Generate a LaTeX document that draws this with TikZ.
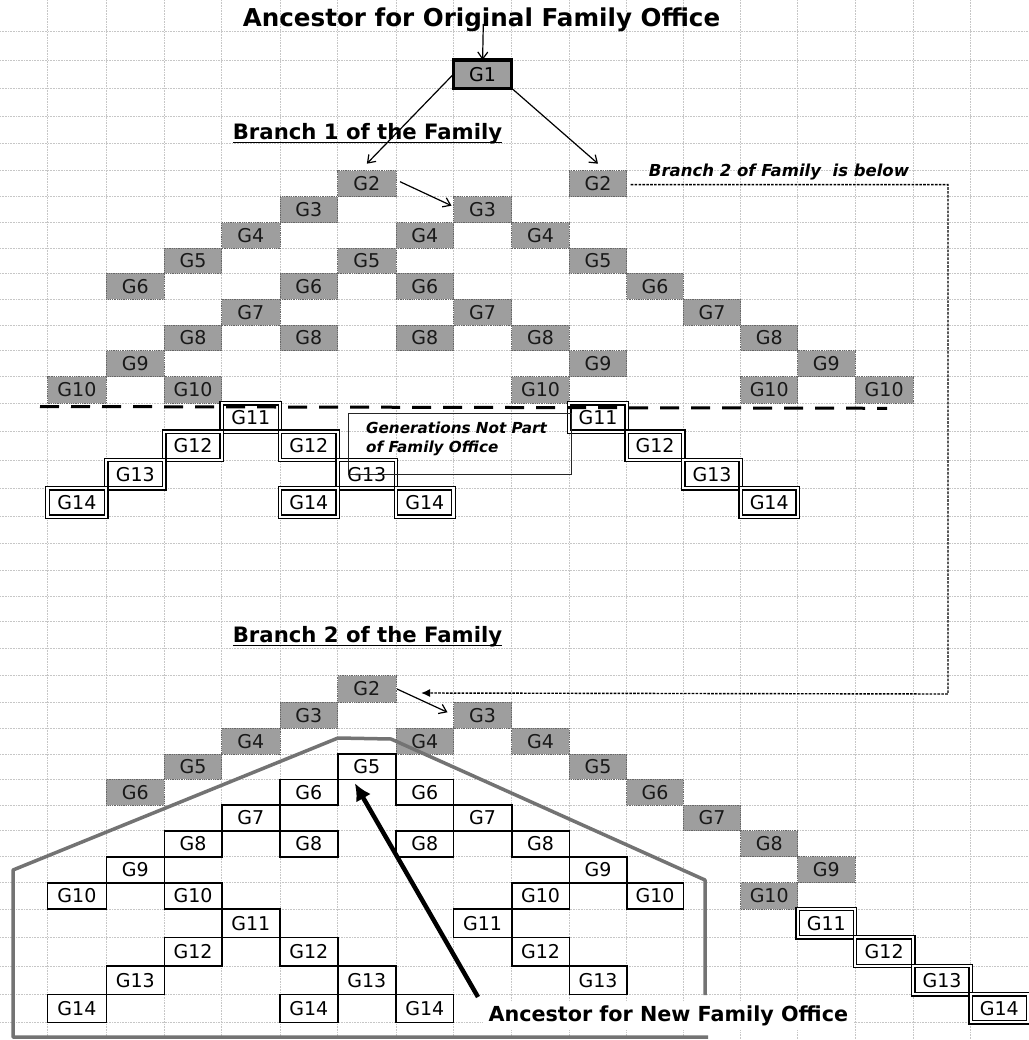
\documentclass[tikz,border=0pt]{standalone}
\usepackage{fontspec}
\setmainfont{DejaVu Sans}
\usetikzlibrary{arrows.meta}
\newcommand\ulx[1]{\setbox0\hbox{#1}\rlap{\rule[-3.3pt]{\wd0}{1.4pt}}\box0}
\def\colx{{47.5,106.3,164.3,221.7,280,337.7,396,453.5,511.7,569.3,626.7,683.3,740.7,797.7,855,913.3,970.7,1028}}
\def\rowy{{3.4,31.7,60,88.3,116.7,143.3,170.7,196.7,222.7,248,273.3,299.3,325,350.7,376.7,403.3,431.7,460,488.3,516.7,543.3,570,596,621.7,648.3,675.7,702.3,728.3,754,779.3,805,830.7,856.7,882.7,909,937.3,966,994.3,1022.3,1050}}
\newcommand\cellat[4]{%
  \pgfmathsetmacro\cxa{\colx[#2]}%
  \pgfmathsetmacro\cxb{\colx[#2+1]}%
  \pgfmathsetmacro\cya{\rowy[#3]}%
  \pgfmathsetmacro\cyb{\rowy[#3+1]}%
  \node[#1, minimum width={\cxb-\cxa}, minimum height={\cyb-\cya}] (c#2r#3) at ({(\cxa+\cxb)/2},{(\cya+\cyb)/2}) {#4};}
\tikzset{
  gridl/.style={gray!45, densely dotted, line width=0.6pt},
  celltext/.style={font=\fontsize{19}{22}\selectfont, inner sep=0pt, outer sep=0pt},
  gcell/.style={celltext, fill=black!38, draw=black!60, densely dotted, line width=0.8pt, text=black!90},
  wcell/.style={celltext, fill=white, draw=black, line width=1.6pt},
  dcell/.style={celltext, fill=white, draw=black, line width=1.2pt, double=white, double distance=2.2pt},
  topcell/.style={celltext, fill=black!38, draw=black, line width=3.5pt},
  arr/.style={line width=1.2pt, -{Straight Barb[length=7pt,width=10pt]}},
  dashc/.style={line width=1.4pt, dash pattern=on 2.6pt off 1.3pt, -{Latex[length=9pt,width=8pt]}},
  thickdash/.style={line width=3pt, dash pattern=on 19pt off 12pt},
  poly/.style={draw=black!55, line width=3.5pt, line join=round},
  bigarr/.style={line width=4.5pt, -{Latex[length=17pt,width=17pt]}},
  heading/.style={font=\bfseries\fontsize{21.2}{25}\selectfont, anchor=base, inner sep=0pt},
}
\begin{document}
\begin{tikzpicture}[x=1pt,y=-1pt]
\fill[white] (0,0) rectangle (1028,1040);
\useasboundingbox (0,0) rectangle (1028,1040);
% grid
\foreach \k in {0,...,16} {\pgfmathsetmacro\gxx{\colx[\k]}\draw[gridl] (\gxx,0) -- (\gxx,1040);}
\foreach \k in {1,...,38} {\pgfmathsetmacro\gyy{\rowy[\k]}\draw[gridl] (0,\gyy) -- (1028,\gyy);}

% title
\node[font=\bfseries\fontsize{24.6}{28}\selectfont, anchor=base, inner sep=0pt] (title) at (481.5,26.7) {Ancestor for Original Family Office};
\cellat{topcell}{7}{2}{G1}
\coordinate (ta) at (483.3,24);
\draw[arr] (ta) -- (c7r2.north);

\node[heading] (head1) at (367.5,140) {\ulx{Branch 1 of the Family}};
\node[heading] (head2) at (367.5,642.7) {\ulx{Branch 2 of the Family}};

% Branch 1 gray cells
\foreach \gi/\cols in {2/{5,9},3/{4,7},4/{3,6,8},5/{2,5,9},6/{1,4,6,10},7/{3,7,11},8/{2,4,6,8,12},9/{1,9,13},10/{0,2,8,12,14}} {
  \pgfmathtruncatemacro\rr{\gi+4}
  \foreach \ci in \cols {\cellat{gcell}{\ci}{\rr}{G\gi}}
}
% Branch 1 double cells
\foreach \gi/\cols in {11/{3,9},12/{2,4,10},13/{1,5,11},14/{0,4,6,12}} {
  \pgfmathtruncatemacro\rr{\gi+4}
  \foreach \ci in \cols {\cellat{dcell}{\ci}{\rr}{G\gi}}
}
% Branch 2 gray cells
\foreach \gi/\cols in {2/{5},3/{4,7},4/{3,6,8},5/{2,9},6/{1,10},7/{11},8/{12},9/{13},10/{12}} {
  \pgfmathtruncatemacro\rr{\gi+23}
  \foreach \ci in \cols {\cellat{gcell}{\ci}{\rr}{G\gi}}
}
% Branch 2 white cells
\foreach \gi/\cols in {5/{5},6/{4,6},7/{3,7},8/{2,4,6,8},9/{1,9},10/{0,2,8,10},11/{3,7},12/{2,4,8},13/{1,5,9},14/{0,4,6}} {
  \pgfmathtruncatemacro\rr{\gi+23}
  \foreach \ci in \cols {\cellat{wcell}{\ci}{\rr}{G\gi}}
}
% Branch 2 double cells
\foreach \gi/\ci in {11/13,12/14,13/15,14/16} {
  \pgfmathtruncatemacro\rr{\gi+23}
  \cellat{dcell}{\ci}{\rr}{G\gi}
}

% arrows top
\draw[arr] (c7r2.west) -- ([yshift=7pt]c5r6.north);
\draw[arr] (c7r2.south east) -- ([yshift=7pt]c9r6.north);
\draw[arr] ([xshift=4pt,yshift=2pt]c5r6.east) -- ([xshift=-2pt,yshift=4pt]c7r7.west);
\draw[arr] ([xshift=1pt]c5r25.east) -- ([xshift=-6pt,yshift=3pt]c7r26.west);

% branch 2 note and connector
\node[font=\bfseries\itshape\fontsize{16.5}{19}\selectfont, anchor=base, inner sep=0pt] (note2) at (779,176.7) {Branch 2 of Family\ \ is below};
\coordinate (dk) at (948,694);
\draw[dashc] ([xshift=4pt,yshift=-1pt]c9r6.east) -| (dk) -- ([xshift=25pt,yshift=-4pt]c5r25.east);

% thick dashed separator
\coordinate (dl1) at (40,406.5);
\coordinate (dl2) at (887,408.3);
\draw[thickdash] (dl1) -- (dl2);

% generations box
\node[draw=black!85, line width=0.9pt, minimum width=222.4pt, minimum height=61.3pt, anchor=north west, inner sep=0pt] (genbox) at (348.3,412.7) {};
\node[font=\bfseries\itshape\fontsize{15.2}{19.4}\selectfont, anchor=base west, align=left, inner sep=0pt] (gentext) at (366,452.7) {Generations Not Part\\of Family Office};

% new family office outline
\draw[poly] (705,995) -- (705,880) -- (391,739) -- (338,738) -- (13,870) -- (13,1037) -- (708,1037);

% label and big arrow
\node[font=\bfseries\fontsize{20.7}{24}\selectfont, anchor=base, fill=white, inner xsep=6pt, inner ysep=4pt] (anc2) at (668.3,1021.7) {Ancestor for New Family Office};
\coordinate (bt) at (478,997);
\draw[bigarr] (bt) -- ([xshift=-12pt,yshift=-4pt]c5r28.south);
\end{tikzpicture}
\end{document}
